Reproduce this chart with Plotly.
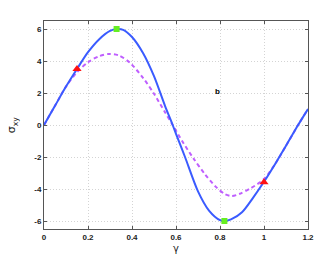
import plotly.graph_objects as go

gamma_blue = [0, 0.05, 0.1, 0.15, 0.2, 0.25, 0.3, 0.33, 0.36, 0.4, 0.45, 0.5, 0.55, 0.585,
              0.6, 0.641, 0.7, 0.75, 0.8, 0.82, 0.85, 0.9, 0.95, 1.0, 1.05, 1.1, 1.155, 1.2]
sigma_blue = [0, 1.2, 2.4, 3.5, 4.55, 5.35, 5.88, 6.0, 5.95, 5.5, 4.5, 3.05, 1.2, 0,
              -0.55, -2.0, -4.15, -5.35, -5.95, -6.0, -5.9, -5.45, -4.55, -3.55, -2.45, -1.3, 0, 1.0]

gamma_purple = [0, 0.05, 0.1, 0.15, 0.2, 0.25, 0.295, 0.34, 0.39, 0.45, 0.5, 0.55, 0.585,
                0.63, 0.68, 0.73, 0.78, 0.82, 0.853, 0.89, 0.94, 1.0, 1.05, 1.1, 1.155, 1.2]
sigma_purple = [0, 1.2, 2.4, 3.3, 3.92, 4.3, 4.44, 4.35, 3.9, 2.95, 1.95, 0.8, 0,
                -1.05, -2.1, -3.05, -3.85, -4.3, -4.44, -4.3, -3.95, -3.38, -2.45, -1.3, 0, 1.0]

gamma_sq = [0.33, 0.82]
sigma_sq = [6.0, -6.0]
gamma_tri = [0.15, 1.0]
sigma_tri = [3.5, -3.58]

x_ticks = [0, 0.2, 0.4, 0.6, 0.8, 1.0, 1.2]
x_labels = ["0", "0.2", "0.4", "0.6", "0.8", "1", "1.2"]
y_ticks = [-6, -4, -2, 0, 2, 4, 6]

fig = go.Figure()
fig.add_trace(go.Scatter(x=gamma_purple, y=sigma_purple, mode="lines",
                         line=dict(color="#bf5fff", width=2, dash="4px,3px", shape="spline", smoothing=0.8),
                         showlegend=False))
fig.add_trace(go.Scatter(x=gamma_blue, y=sigma_blue, mode="lines",
                         line=dict(color="#3a5bff", width=2, shape="spline", smoothing=0.8),
                         showlegend=False))
fig.add_trace(go.Scatter(x=gamma_sq, y=sigma_sq, mode="markers",
                         marker=dict(symbol="square", color="#66ee22", size=6),
                         showlegend=False))
fig.add_trace(go.Scatter(x=gamma_tri, y=sigma_tri, mode="markers",
                         marker=dict(symbol="triangle-up", color="#ff1111", size=8),
                         showlegend=False))

fig.add_annotation(x=0.79, y=2.1, text="<b>b</b>", showarrow=False,
                   font=dict(size=8, color="black", family="Liberation Sans, Arial"))
fig.add_annotation(xref="paper", yref="paper", x=0.5, y=-0.064, yanchor="top",
                   text="γ", showarrow=False, borderpad=0,
                   font=dict(size=10, color="#222222", family="DejaVu Sans"))
fig.add_annotation(xref="paper", yref="paper", x=-0.12, y=0.5, xanchor="center",
                   textangle=-90, text="σ<sub>xy</sub>", showarrow=False,
                   font=dict(size=11, color="#222222", family="DejaVu Sans"))

axis_common = dict(showline=True, linecolor="#555555", linewidth=1, mirror="ticks",
                   ticks="inside", ticklen=3, tickcolor="#555555",
                   showgrid=True, gridcolor="#d4d4d4", griddash="1px,2px", gridwidth=1,
                   zeroline=False, automargin=False,
                   tickfont=dict(size=8, color="#222222", family="Liberation Sans, Arial"))

fig.update_xaxes(range=[0, 1.2], tickvals=x_ticks, ticktext=[f"<b>{t}</b>" for t in x_labels],
                 **axis_common)
fig.update_yaxes(range=[-6.5, 6.5], tickvals=y_ticks, ticktext=[f"<b>{t}</b>" for t in y_ticks],
                 **axis_common)

fig.update_layout(width=316, height=255, margin=dict(l=44, r=8, t=21, b=26),
                  paper_bgcolor="white", plot_bgcolor="white",
                  font=dict(family="Liberation Sans, Arial"))

fig.write_html("out.html", config={"displayModeBar": False},
               post_script="document.body.style.margin='0px';document.body.style.overflow='hidden';")
